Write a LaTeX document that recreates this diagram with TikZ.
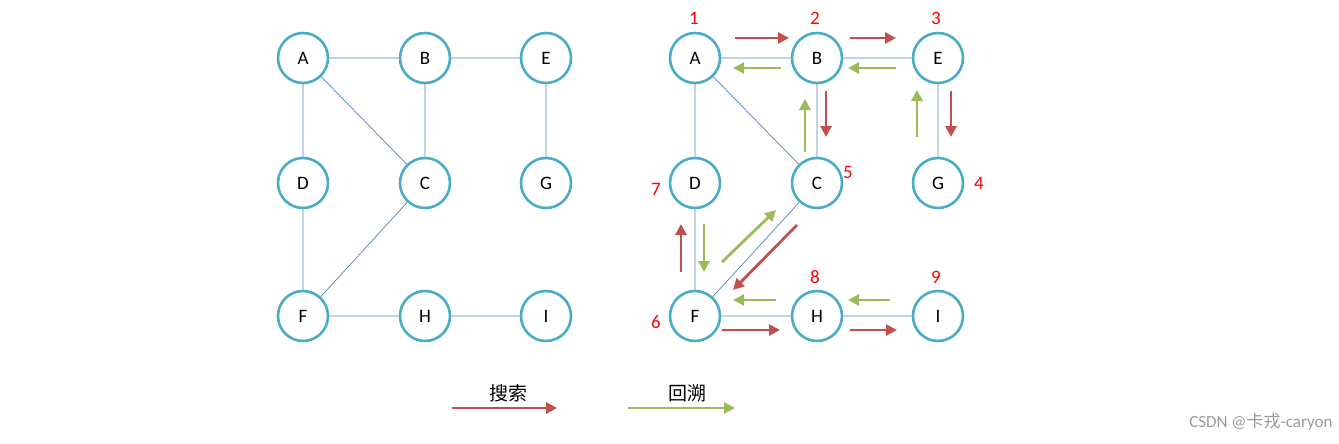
\documentclass[tikz,border=0pt]{standalone}
\usepackage{fontspec}
\setmainfont{Carlito}
\newfontfamily\cjk{Noto Sans CJK SC}
\usetikzlibrary{arrows.meta}
\definecolor{ring}{RGB}{75,172,198}
\definecolor{edg}{RGB}{79,129,189}
\definecolor{rd}{RGB}{192,80,77}
\definecolor{gr}{RGB}{155,187,89}
\begin{document}
\begin{tikzpicture}[x=1pt,y=-1pt,
  vx/.style={circle,draw=ring,line width=2.6pt,fill=white,minimum size=50pt,inner sep=0pt,font=\fontsize{19}{19}\selectfont},
  ed/.style={draw=edg,line width=0.7pt},
  ra/.style={rd,line width=2.8pt,-{Triangle[length=11pt,width=11pt]}},
  ga/.style={gr,line width=2.8pt,-{Triangle[length=11pt,width=11pt]}},
  num/.style={text=red,font=\fontsize{19}{19}\selectfont}]
\useasboundingbox (0,0) rectangle (1339,444);
\foreach \p/\dx in {L/0,R/392}{
  \node[vx] (A\p) at (303+\dx,58) {A};
  \node[vx] (B\p) at (425+\dx,58) {B};
  \node[vx] (E\p) at (546+\dx,58) {E};
  \node[vx] (D\p) at (303+\dx,183) {D};
  \node[vx] (C\p) at (425+\dx,183) {C};
  \node[vx] (G\p) at (546+\dx,183) {G};
  \node[vx] (F\p) at (303+\dx,316) {F};
  \node[vx] (H\p) at (425+\dx,316) {H};
  \node[vx] (I\p) at (546+\dx,316) {I};
  \begin{scope}[on background layer/.style={}]
  \path[ed] (A\p)--(B\p) (B\p)--(E\p) (A\p)--(D\p) (A\p)--(C\p) (B\p)--(C\p) (E\p)--(G\p) (D\p)--(F\p) (C\p)--(F\p) (F\p)--(H\p) (H\p)--(I\p);
  \end{scope}
}
% red search arrows
\coordinate (r1s) at (735,38); \coordinate (r1e) at (789,38);
\draw[ra] (r1s)--(r1e);
\coordinate (r2s) at (850,38); \coordinate (r2e) at (896,38);
\draw[ra] (r2s)--(r2e);
\coordinate (r3s) at (951,91); \coordinate (r3e) at (951,137);
\draw[ra] (r3s)--(r3e);
\coordinate (r4s) at (826,91); \coordinate (r4e) at (826,137);
\draw[ra] (r4s)--(r4e);
\coordinate (r5s) at (797,225); \coordinate (r5e) at (733,290);
\draw[ra] (r5s)--(r5e);
\coordinate (r6s) at (681,272); \coordinate (r6e) at (681,224);
\draw[ra] (r6s)--(r6e);
\coordinate (r7s) at (722,330); \coordinate (r7e) at (780,330);
\draw[ra] (r7s)--(r7e);
\coordinate (r8s) at (850,330); \coordinate (r8e) at (897,330);
\draw[ra] (r8s)--(r8e);
% green backtrack arrows
\coordinate (g1s) at (781,68); \coordinate (g1e) at (733,68);
\draw[ga] (g1s)--(g1e);
\coordinate (g2s) at (896,68); \coordinate (g2e) at (848,68);
\draw[ga] (g2s)--(g2e);
\coordinate (g3s) at (917,137); \coordinate (g3e) at (917,90);
\draw[ga] (g3s)--(g3e);
\coordinate (g4s) at (805,152); \coordinate (g4e) at (805,99);
\draw[ga] (g4s)--(g4e);
\coordinate (g5s) at (722,262); \coordinate (g5e) at (776,210);
\draw[ga] (g5s)--(g5e);
\coordinate (g6s) at (704,224); \coordinate (g6e) at (704,272);
\draw[ga] (g6s)--(g6e);
\coordinate (g7s) at (776,300); \coordinate (g7e) at (733,300);
\draw[ga] (g7s)--(g7e);
\coordinate (g8s) at (890,300); \coordinate (g8e) at (848,300);
\draw[ga] (g8s)--(g8e);
% numbers
\node[num] (n1) at (694,18) {1};
\node[num] (n2) at (815,18) {2};
\node[num] (n3) at (936,18) {3};
\node[num] (n4) at (979,183) {4};
\node[num] (n5) at (848,172) {5};
\node[num] (n6) at (656,322) {6};
\node[num] (n7) at (656,189) {7};
\node[num] (n8) at (815,277) {8};
\node[num] (n9) at (936,277) {9};
% legend
\node[font=\cjk\fontsize{19}{19}\selectfont] (l1) at (508,393) {搜索};
\node[font=\cjk\fontsize{19}{19}\selectfont] (l2) at (687,393) {回溯};
\coordinate (lr1) at (452,408); \coordinate (lr2) at (557,408);
\draw[ra] (lr1)--(lr2);
\coordinate (lg1) at (628,408); \coordinate (lg2) at (735,408);
\draw[ga] (lg1)--(lg2);
\node[text=black!40,font=\fontsize{17}{17}\selectfont,anchor=east] (wm) at (1336,422) {CSDN @{\cjk 卡戎}-caryon};
\end{tikzpicture}
\end{document}
